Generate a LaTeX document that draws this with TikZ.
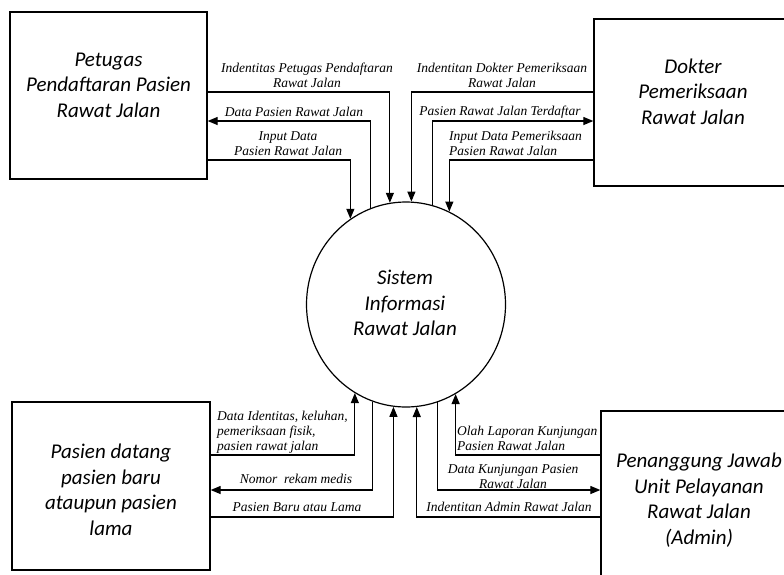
\documentclass[tikz,border=0pt]{standalone}
\usepackage{fontspec}
\setmainfont{Carlito}
\newfontfamily\lblfont{Liberation Serif}
\usetikzlibrary{arrows.meta,shapes.geometric}

\tikzset{
  entity/.style={draw=black, line width=1.3pt, fill=white, rectangle, inner sep=0pt},
  entitytext/.style={align=center, inner sep=0pt, font=\itshape\fontsize{21}{25.5}\selectfont},
  process/.style={draw=black, line width=1.2pt, fill=white, ellipse, inner sep=0pt, minimum width=199pt, minimum height=205pt},
  flowlabel/.style={inner sep=0pt, font=\lblfont\itshape\fontsize{13.5}{15}\selectfont},
  flow/.style={line width=1.2pt, -{Triangle[length=10pt,width=8pt]}},
}

\begin{document}
\begin{tikzpicture}[x=1pt, y=-1pt]
\useasboundingbox (0,0) rectangle (784,574);

% data-flow labels (set first so that the boxes cover any overflow)
\node[flowlabel, align=center] (l1) at (307,75.5) {Indentitas Petugas Pendaftaran\\Rawat Jalan};
\node[flowlabel] (l2) at (294,112) {Data Pasien Rawat Jalan};
\node[flowlabel, align=center] (l3) at (288,143.5) {Input Data\\Pasien Rawat Jalan};
\node[flowlabel, align=center] (l4) at (502,75.5) {Indentitan Dokter Pemeriksaan\\Rawat Jalan};
\node[flowlabel] (l5) at (500,112) {Pasien Rawat Jalan Terdaftar};
\node[flowlabel, align=left, anchor=west] (l6) at (449,143.5) {Input Data Pemeriksaan\\Pasien Rawat Jalan};
\node[flowlabel, align=left, anchor=west] (l7) at (217,432) {Data Identitas, keluhan,\\pemeriksaan fisik,\\pasien rawat jalan};
\node[flowlabel] (l8) at (296,479) {Nomor\ \ rekam medis};
\node[flowlabel] (l9) at (297,507) {Pasien Baru atau Lama};
\node[flowlabel, align=left, anchor=west] (l10) at (457,438.5) {Olah Laporan Kunjungan\\Pasien Rawat Jalan};
\node[flowlabel, align=center] (l11) at (513,476.5) {Data Kunjungan Pasien\\Rawat Jalan};
\node[flowlabel] (l12) at (509,507) {Indentitan Admin Rawat Jalan};

% external entities
\node[entity, minimum width=197pt, minimum height=167pt] (b1) at (108.5,95.5) {};
\node[entity, minimum width=198pt, minimum height=167pt] (b2) at (693,102.5) {};
\node[entity, minimum width=198pt, minimum height=168pt] (b3) at (111,486) {};
\node[entity, minimum width=196pt, minimum height=190pt] (b4) at (699,506) {};

\node[entitytext] (t1) at (108.5,85) {Petugas\\Pendaftaran Pasien\\Rawat Jalan};
\node[entitytext] (t2) at (693,91.5) {Dokter\\Pemeriksaan\\Rawat Jalan};
\node[entitytext] (t3) at (111,490) {Pasien datang\\pasien baru\\ataupun pasien\\lama};
\node[entitytext] (t4) at (699,500) {Penanggung Jawab\\Unit Pelayanan\\Rawat Jalan\\(Admin)};

% the process
\node[process] (sys) at (406,304.5) {};
\node[entitytext] (ts) at (405,303) {Sistem\\Informasi\\Rawat Jalan};

% connector rows
\coordinate (rowA) at (0,92);
\coordinate (rowB) at (0,121);
\coordinate (rowC) at (0,160);
\coordinate (rowD) at (0,455);
\coordinate (rowE) at (0,490);
\coordinate (rowF) at (0,517);

% top left
\draw[flow] (b1.east |- rowA) -| (sys.99.6);
\draw[flow] (sys.110.0) |- (b1.east |- rowB);
\draw[flow] (b1.east |- rowC) -| (sys.123.5);
% top right
\draw[flow] (b2.west |- rowA) -| (sys.87.2);
\draw[flow] (sys.75.3) |- (b2.west |- rowB);
\draw[flow] (b2.west |- rowC) -| (sys.65.05);
% bottom left
\draw[flow] (b3.east |- rowD) -| (sys.-120.75);
\draw[flow] (sys.-109.45) |- (b3.east |- rowE);
\draw[flow] (b3.east |- rowF) -| (sys.-97.3);
% bottom right
\draw[flow] (b4.west |- rowD) -| (sys.-61.2);
\draw[flow] (sys.-72.35) |- (b4.west |- rowE);
\draw[flow] (b4.west |- rowF) -| (sys.-84.4);
\end{tikzpicture}
\end{document}
